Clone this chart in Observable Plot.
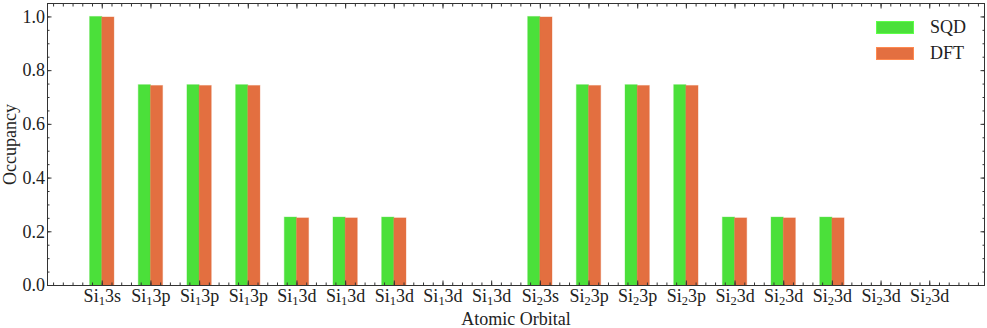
<!DOCTYPE html>
<html>
<head>
<meta charset="utf-8">
<script src="https://cdn.jsdelivr.net/npm/d3@7"></script>
<script src="https://cdn.jsdelivr.net/npm/@observablehq/plot@0.6"></script>
<style>
  html, body { margin: 0; padding: 0; background: #fff; }
  #wrap { position: relative; width: 987px; height: 328px; }
  #legend { position: absolute; left: 876px; top: 14px; font-family: "Liberation Serif", "DejaVu Serif", serif; font-size: 18px; color: #222; }
  .item { display: flex; align-items: center; height: 26px; }
  .sw { width: 38px; height: 13px; margin-right: 16px; box-sizing: border-box; }
</style>
</head>
<body>
<div id="wrap"><div id="legend"></div></div>
<script>
const orbitals = ["Si₁3s","Si₁3p","Si₁3p","Si₁3p","Si₁3d","Si₁3d","Si₁3d","Si₁3d","Si₁3d",
                  "Si₂3s","Si₂3p","Si₂3p","Si₂3p","Si₂3d","Si₂3d","Si₂3d","Si₂3d","Si₂3d"];
const sqd = [1.0, 0.746, 0.746, 0.746, 0.253, 0.253, 0.253, 0, 0,
             1.0, 0.746, 0.746, 0.746, 0.253, 0.253, 0.253, 0, 0];
const dft = [0.998, 0.743, 0.743, 0.743, 0.250, 0.250, 0.250, 0, 0,
             0.998, 0.743, 0.743, 0.743, 0.250, 0.250, 0.250, 0, 0];
const seriesNames = ["SQD", "DFT"];
const seriesColors = ["#4be03a", "#e36f40"];
const yTicks = [0, 0.2, 0.4, 0.6, 0.8, 1.0];

const barW = 0.25;
const rows = [];
orbitals.forEach((o, i) => {
  rows.push({i, s: "SQD", x1: i - barW, x2: i, v: sqd[i]});
  rows.push({i, s: "DFT", x1: i, x2: i + barW, v: dft[i]});
});
const n = orbitals.length;
const xMin = -barW - 0.05 * (n - 1 + 2 * barW);
const xMax = (n - 1) + barW + 0.05 * (n - 1 + 2 * barW);
const xMinor = d3.range(Math.ceil(xMin / 0.2), Math.floor(xMax / 0.2) + 1).map(k => +(k * 0.2).toFixed(2));
const yMinor = d3.range(0, 22).map(k => +(k * 0.05).toFixed(2));

const font = `"Liberation Serif", "DejaVu Serif", serif`;
const ink = "#333";
const fs = 18;

const chart = Plot.plot({
  width: 987,
  height: 328,
  marginLeft: 47,
  marginRight: 3,
  marginTop: 3,
  marginBottom: 43,
  style: {fontFamily: font, fontSize: fs + "px", color: "#222", background: "#fff"},
  x: {type: "linear", domain: [xMin, xMax]},
  y: {domain: [0, 1.05]},
  color: {domain: seriesNames, range: seriesColors},
  marks: [
    Plot.rectY(rows, {x1: "x1", x2: "x2", y1: 0, y2: "v", fill: "s", stroke: "s", strokeOpacity: 0.35, strokeWidth: 1}),
    Plot.frame({stroke: ink, strokeWidth: 1}),
    // minor ticks
    Plot.axisX({anchor: "bottom", ticks: xMinor, tickSize: -2.5, tickFormat: () => "", label: null, stroke: ink}),
    Plot.axisX({anchor: "top", ticks: xMinor, tickSize: -2.5, tickFormat: () => "", label: null, stroke: ink}),
    Plot.axisY({anchor: "left", ticks: yMinor, tickSize: -2.5, tickFormat: () => "", label: null, stroke: ink}),
    Plot.axisY({anchor: "right", ticks: yMinor, tickSize: -2.5, tickFormat: () => "", label: null, stroke: ink}),
    // major ticks + labels
    Plot.axisX({anchor: "bottom", ticks: d3.range(n), tickSize: -4.5, tickPadding: 8, tickFormat: d => orbitals[d], stroke: ink,
                fontSize: fs, label: "Atomic Orbital", labelAnchor: "center", labelArrow: "none", labelOffset: 39}),
    Plot.axisX({anchor: "top", ticks: d3.range(n), tickSize: -4.5, tickFormat: () => "", label: null, stroke: ink}),
    Plot.axisY({anchor: "left", ticks: yTicks, tickSize: -4.5, tickPadding: 7, tickFormat: d3.format(".1f"), stroke: ink,
                fontSize: fs, label: "Occupancy", labelAnchor: "center", labelArrow: "none", labelOffset: 44}),
    Plot.axisY({anchor: "right", ticks: yTicks, tickSize: -4.5, tickFormat: () => "", label: null, stroke: ink})
  ]
});
document.getElementById("wrap").prepend(chart);

// render Unicode subscript digits as real subscripts
const subMap = {"₁": "1", "₂": "2"};
const ns = "http://www.w3.org/2000/svg";
chart.querySelectorAll("text").forEach(t => {
  const s = t.textContent;
  if (!/[₁₂]/.test(s)) return;
  while (t.firstChild) t.removeChild(t.firstChild);
  let buf = "";
  let pendingDy = 0;
  const flush = () => {
    if (!buf) return;
    const ts = document.createElementNS(ns, "tspan");
    ts.textContent = buf;
    if (pendingDy) { ts.setAttribute("dy", pendingDy); pendingDy = 0; }
    t.appendChild(ts);
    buf = "";
  };
  for (const ch of s) {
    if (subMap[ch]) {
      flush();
      const sub = document.createElementNS(ns, "tspan");
      sub.textContent = subMap[ch];
      sub.setAttribute("font-size", "12.5px");
      sub.setAttribute("dy", "3");
      t.appendChild(sub);
      pendingDy = -3;
    } else buf += ch;
  }
  flush();
});

const legend = document.getElementById("legend");
seriesNames.forEach((s, k) => {
  const item = document.createElement("div");
  item.className = "item";
  const sw = document.createElement("div");
  sw.className = "sw";
  sw.style.background = seriesColors[k];
  sw.style.border = "1px solid " + d3.color(seriesColors[k]).brighter(0.6);
  const t = document.createElement("span");
  t.textContent = s;
  item.append(sw, t);
  legend.append(item);
});
</script>
</body>
</html>
